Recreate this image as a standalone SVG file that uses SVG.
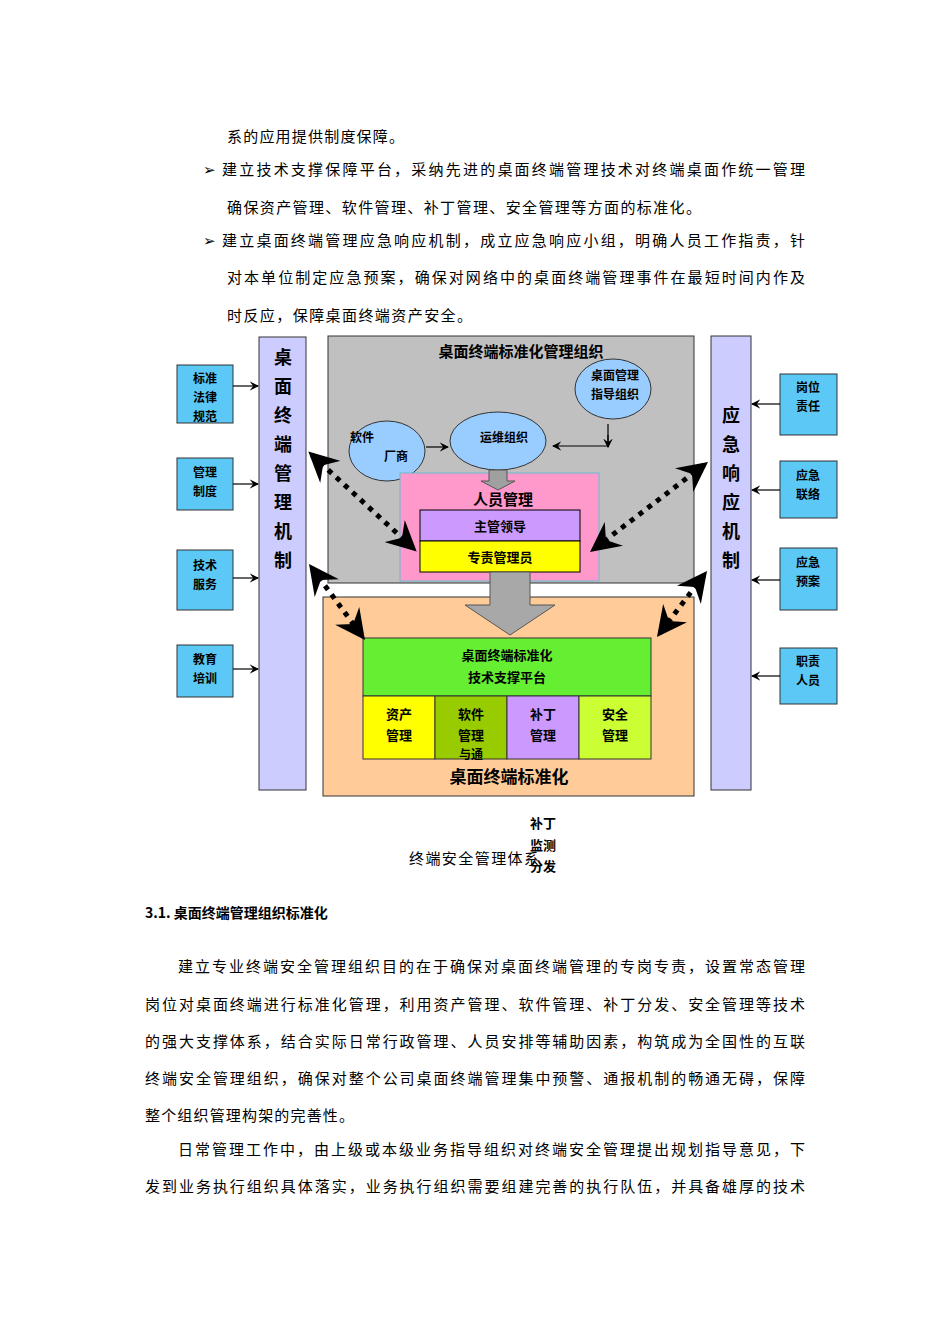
<svg xmlns="http://www.w3.org/2000/svg" width="950" height="1344" viewBox="0 0 950 1344">
<defs>
<style>
text{font-family:"Noto Sans CJK SC","Liberation Serif",serif;fill:#000}
.p{font-size:15px}
.v{font-size:18px;font-weight:bold;text-anchor:middle}
.c{font-size:12px;font-weight:bold;text-anchor:middle}
.sb{fill:#5BC8F5;stroke:#333;stroke-width:1}
.ln{stroke:#000;stroke-width:1.2;fill:none}
.dot{stroke:#000;stroke-width:5;stroke-dasharray:5 6;fill:none}
</style>
<marker id="a" markerWidth="8" markerHeight="8" refX="7" refY="4" orient="auto"><path d="M0,0L8,4L0,8L3,4z" fill="#000"/></marker>
<marker id="d" markerWidth="6" markerHeight="6" refX="5" refY="3" orient="auto-start-reverse"><path d="M0,0L6,3L0,6L2,3z" fill="#000"/></marker>
</defs>
<rect width="950" height="1344" fill="#fff"/>
<g id="text">
<text class="p" x="227" y="142" textLength="177" lengthAdjust="spacing">系的应用提供制度保障。</text>
<text class="p" x="203" y="175">➢</text>
<text class="p" x="222" y="175" textLength="583" lengthAdjust="spacing">建立技术支撑保障平台，采纳先进的桌面终端管理技术对终端桌面作统一管理</text>
<text class="p" x="227" y="213" textLength="474" lengthAdjust="spacing">确保资产管理、软件管理、补丁管理、安全管理等方面的标准化。</text>
<text class="p" x="203" y="246">➢</text>
<text class="p" x="222" y="246" textLength="583" lengthAdjust="spacing">建立桌面终端管理应急响应机制，成立应急响应小组，明确人员工作指责，针</text>
<text class="p" x="227" y="283" textLength="578" lengthAdjust="spacing">对本单位制定应急预案，确保对网络中的桌面终端管理事件在最短时间内作及</text>
<text class="p" x="227" y="321" textLength="245" lengthAdjust="spacing">时反应，保障桌面终端资产安全。</text>
<text class="p" x="409" y="864" fill="#333" textLength="130" lengthAdjust="spacing">终端安全管理体系</text>
<text x="145" y="918" style="font-size:14px;font-weight:bold">3.1.  桌面终端管理组织标准化</text>
<text class="p" x="178" y="972" textLength="627" lengthAdjust="spacing">建立专业终端安全管理组织目的在于确保对桌面终端管理的专岗专责，设置常态管理</text>
<text class="p" x="145" y="1010" textLength="660" lengthAdjust="spacing">岗位对桌面终端进行标准化管理，利用资产管理、软件管理、补丁分发、安全管理等技术</text>
<text class="p" x="145" y="1047" textLength="660" lengthAdjust="spacing">的强大支撑体系，结合实际日常行政管理、人员安排等辅助因素，构筑成为全国性的互联</text>
<text class="p" x="145" y="1084" textLength="660" lengthAdjust="spacing">终端安全管理组织，确保对整个公司桌面终端管理集中预警、通报机制的畅通无碍，保障</text>
<text class="p" x="145" y="1121" textLength="209" lengthAdjust="spacing">整个组织管理构架的完善性。</text>
<text class="p" x="178" y="1155" textLength="627" lengthAdjust="spacing">日常管理工作中，由上级或本级业务指导组织对终端安全管理提出规划指导意见，下</text>
<text class="p" x="145" y="1192" textLength="660" lengthAdjust="spacing">发到业务执行组织具体落实，业务执行组织需要组建完善的执行队伍，并具备雄厚的技术</text>
</g>
<g id="gray-org">
<rect x="328" y="336" width="366" height="247" fill="#C0C0C0" stroke="#333"/>
<text x="521" y="357" style="font-size:15px;font-weight:bold;text-anchor:middle">桌面终端标准化管理组织</text>
</g>
<g id="orange">
<rect x="323" y="597" width="371" height="199" fill="#FFCC99" stroke="#333"/>
<text x="509" y="783" style="font-size:17px;font-weight:bold;text-anchor:middle">桌面终端标准化</text>
</g>
<g id="left-mech">
<rect x="259" y="337" width="47" height="453" fill="#CCCCFF" stroke="#333"/>
<text class="v" x="283" y="364">桌</text><text class="v" x="283" y="393">面</text><text class="v" x="283" y="422">终</text><text class="v" x="283" y="451">端</text><text class="v" x="283" y="480">管</text><text class="v" x="283" y="509">理</text><text class="v" x="283" y="538">机</text><text class="v" x="283" y="567">制</text>
</g>
<g id="right-mech">
<rect x="711" y="336" width="40" height="454" fill="#CCCCFF" stroke="#333"/>
<text class="v" x="731" y="422">应</text><text class="v" x="731" y="451">急</text><text class="v" x="731" y="480">响</text><text class="v" x="731" y="509">应</text><text class="v" x="731" y="538">机</text><text class="v" x="731" y="567">制</text>
</g>
<g id="l1"><rect class="sb" x="177" y="365" width="56" height="58"/><text class="c" x="205" y="383">标准</text><text class="c" x="205" y="402">法律</text><text class="c" x="205" y="421">规范</text></g>
<g id="l2"><rect class="sb" x="177" y="458" width="56" height="52"/><text class="c" x="205" y="477">管理</text><text class="c" x="205" y="496">制度</text></g>
<g id="l3"><rect class="sb" x="177" y="550" width="56" height="60"/><text class="c" x="205" y="570">技术</text><text class="c" x="205" y="589">服务</text></g>
<g id="l4"><rect class="sb" x="177" y="645" width="56" height="52"/><text class="c" x="205" y="664">教育</text><text class="c" x="205" y="683">培训</text></g>
<g id="r1"><rect class="sb" x="780" y="374" width="57" height="61"/><text class="c" x="808" y="392">岗位</text><text class="c" x="808" y="411">责任</text></g>
<g id="r2"><rect class="sb" x="780" y="461" width="57" height="57"/><text class="c" x="808" y="480">应急</text><text class="c" x="808" y="499">联络</text></g>
<g id="r3"><rect class="sb" x="780" y="548" width="57" height="62"/><text class="c" x="808" y="567">应急</text><text class="c" x="808" y="586">预案</text></g>
<g id="r4"><rect class="sb" x="780" y="648" width="57" height="56"/><text class="c" x="808" y="666">职责</text><text class="c" x="808" y="685">人员</text></g>
<g id="e1"><ellipse cx="613" cy="389" rx="38" ry="30" fill="#99CCFF" stroke="#333"/><text class="c" x="615" y="380">桌面管理</text><text class="c" x="615" y="399">指导组织</text></g>
<g id="e2"><ellipse cx="498" cy="441" rx="48" ry="29" fill="#99CCFF" stroke="#333"/><text class="c" x="504" y="442">运维组织</text></g>
<g id="e3"><ellipse cx="387" cy="451" rx="38" ry="30" fill="#99CCFF" stroke="#333"/><text class="c" x="362" y="442">软件</text><text class="c" x="396" y="461">厂商</text></g>
<g id="people">
<rect x="400" y="473" width="199" height="108" fill="#FF99CC" stroke="#66BBCC"/>
<text x="503" y="505" style="font-size:15px;font-weight:bold;text-anchor:middle">人员管理</text>
<rect x="420" y="510" width="160" height="31" fill="#CC99FF" stroke="#000"/>
<text class="c" x="500" y="531" style="font-size:13px">主管领导</text>
<rect x="420" y="541" width="160" height="31" fill="#FFFF00" stroke="#000"/>
<text class="c" x="500" y="562" style="font-size:13px">专责管理员</text>
</g>
<g id="platform">
<rect x="363" y="638" width="288" height="58" fill="#66EE33" stroke="#333"/>
<text class="c" x="507" y="660" style="font-size:13px">桌面终端标准化</text>
<text class="c" x="507" y="682" style="font-size:13px">技术支撑平台</text>
<rect x="363" y="696" width="72" height="63" fill="#FFFF00" stroke="#333"/>
<rect x="435" y="696" width="72" height="63" fill="#99CC00" stroke="#333"/>
<rect x="507" y="696" width="72" height="63" fill="#CC99FF" stroke="#333"/>
<rect x="579" y="696" width="72" height="63" fill="#CCFF33" stroke="#333"/>
<text class="c" x="399" y="719" style="font-size:13px">资产</text><text class="c" x="399" y="740" style="font-size:13px">管理</text>
<text class="c" x="471" y="719" style="font-size:13px">软件</text><text class="c" x="471" y="740" style="font-size:13px">管理</text><text class="c" x="471" y="759" style="font-size:12px">与通</text>
<text class="c" x="543" y="719" style="font-size:13px">补丁</text><text class="c" x="543" y="740" style="font-size:13px">管理</text>
<text class="c" x="615" y="719" style="font-size:13px">安全</text><text class="c" x="615" y="740" style="font-size:13px">管理</text>
</g>
<g id="patch-note">
<text class="c" x="543" y="828" style="font-size:13px">补丁</text>
<text class="c" x="543" y="850" style="font-size:13px">监测</text>
<text class="c" x="543" y="871" style="font-size:13px">分发</text>
</g>
<g id="connectors">
<line class="ln" x1="233" y1="386" x2="258" y2="386" marker-end="url(#a)"/>
<line class="ln" x1="233" y1="484" x2="258" y2="484" marker-end="url(#a)"/>
<line class="ln" x1="233" y1="578" x2="258" y2="578" marker-end="url(#a)"/>
<line class="ln" x1="233" y1="669" x2="258" y2="669" marker-end="url(#a)"/>
<line class="ln" x1="780" y1="404" x2="752" y2="404" marker-end="url(#a)"/>
<line class="ln" x1="780" y1="490" x2="752" y2="490" marker-end="url(#a)"/>
<line class="ln" x1="780" y1="580" x2="752" y2="580" marker-end="url(#a)"/>
<line class="ln" x1="780" y1="676" x2="752" y2="676" marker-end="url(#a)"/>
<line class="ln" x1="426" y1="447" x2="448" y2="447" marker-end="url(#a)"/>
<polyline class="ln" points="608,424 608,446 553,446" marker-end="url(#a)"/>
<line class="ln" x1="608" y1="435" x2="608" y2="447" marker-end="url(#a)"/>
<polygon points="489,470 507,470 507,481 515,481 498,490 481,481 489,481" fill="#A0A0A0" stroke="#555"/>
<polygon points="490,572 530,572 530,605 555,605 510,635 465,605 490,605" fill="#A8A8A8" stroke="#555"/>
<line class="dot" x1="312" y1="455" x2="413" y2="548" marker-start="url(#d)" marker-end="url(#d)"/>
<line class="dot" x1="312" y1="568" x2="362" y2="636" marker-start="url(#d)" marker-end="url(#d)"/>
<line class="dot" x1="704" y1="465" x2="594" y2="549" marker-start="url(#d)" marker-end="url(#d)"/>
<line class="dot" x1="704" y1="575" x2="660" y2="633" marker-start="url(#d)" marker-end="url(#d)"/>
</g>
</svg>
